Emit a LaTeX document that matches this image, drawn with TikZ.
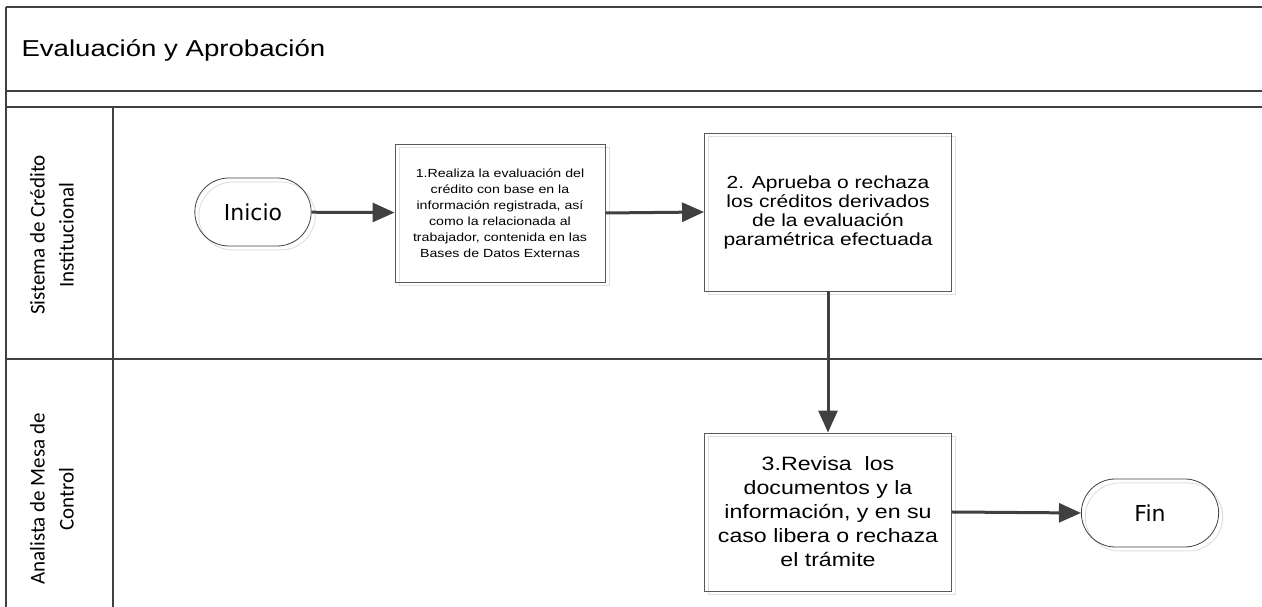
\documentclass[tikz,border=0pt]{standalone}
\usepackage{fontspec}
\setmainfont{Liberation Sans}
\newfontfamily\boxfont[FakeStretch=1.2]{Liberation Sans}
\newfontfamily\termfont{DejaVu Sans}
\newfontfamily\lanefont{Carlito}
\usetikzlibrary{arrows.meta,shapes.misc}
\definecolor{linegray}{HTML}{404040}
\begin{document}
\begin{tikzpicture}[x=1pt,y=1pt,
  lane/.style={draw=linegray,line width=2pt},
  ghost/.style={preaction={draw=black!12,line width=1pt,
    transform canvas={shift={(4pt,-4pt)}}}},
  proc/.style 2 args={draw=black!65,line width=0.9pt,ghost,align=center,
    inner sep=0pt,minimum width=#1,minimum height=#2},
  term/.style={rounded rectangle,draw=black!75,line width=0.8pt,ghost,
    minimum width=#1,minimum height=68pt,font=\termfont\fontsize{22}{26}\selectfont},
  lanelabel/.style={rotate=90,align=center,font=\lanefont\fontsize{21}{29}\selectfont},
  flow/.style={draw=linegray,line width=3pt,-{Triangle[length=22pt,width=19pt]}}]
\useasboundingbox (0,0) rectangle (1262,607);
% pool and lanes
\foreach \y in {600,516,500,248} { \draw[lane] (6,\y) -- (1262,\y); }
\draw[lane] (6,600) -- (6,0);
\draw[lane] (113,500) -- (113,0);
\node[anchor=west,font=\boxfont\fontsize{23}{26}\selectfont] (title) at (18,557)
  {Evaluación y Aprobación};
\node[lanelabel] (sci) at (52,372) {Sistema de Crédito\\Institucional};
\node[lanelabel] (amc) at (52,108) {Analista de Mesa de\\Control};
% steps
\node[term=123pt] (inicio) at (253,395) {Inicio};
\node[proc={210pt}{138pt},font=\boxfont\fontsize{11.8}{16}\selectfont] (eval) at (500,394)
  {1.Realiza la evaluación del\\crédito con base en la\\información registrada, así\\
   como la relacionada al\\trabajador, contenida en las\\Bases de Datos Externas};
\node[proc={247pt}{158pt},font=\boxfont\fontsize{17.5}{19}\selectfont] (aprueba) at (828,395)
  {2. Aprueba o rechaza\\los créditos derivados\\de la evaluación\\paramétrica efectuada};
\node[proc={247pt}{158pt},font=\boxfont\fontsize{19.3}{24}\selectfont] (revisa) at (828,95)
  {3.Revisa\ \ los\\documentos y la\\información, y en su\\caso libera o rechaza\\el trámite};
\node[term=144pt] (fin) at (1150,94) {Fin};
% flow
\draw[flow] (inicio) -- (eval);
\draw[flow] (eval.east) -- (aprueba.west);
\draw[flow] (aprueba) -- (revisa);
\draw[flow] (revisa.east) -- (fin.west);
\end{tikzpicture}
\end{document}
